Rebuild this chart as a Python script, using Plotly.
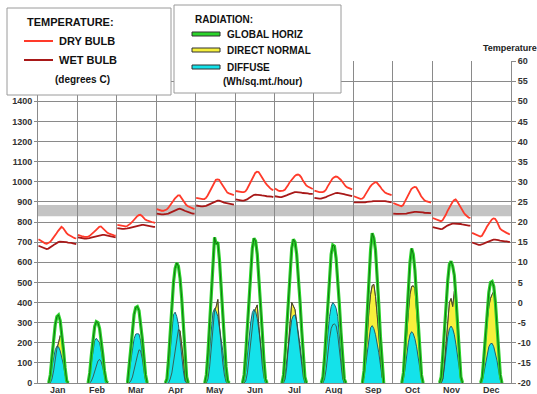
import plotly.graph_objects as go

months = ["Jan", "Feb", "Mar", "Apr", "May", "Jun", "Jul", "Aug", "Sep", "Oct", "Nov", "Dec"]

# Hourly (0..23) average values for each month, degrees C
dry_bulb = [
    [15.7,15.4,15.1,14.9,14.7,14.6,14.8,15.0,15.5,16.0,16.6,17.2,17.8,18.4,18.8,18.5,17.8,17.3,16.9,16.6,16.4,16.2,16.0,15.9],
    [16.8,16.6,16.5,16.4,16.3,16.25,16.3,16.5,16.8,17.2,17.6,18.0,18.4,18.8,18.9,18.5,18.0,17.6,17.3,17.1,16.9,16.8,16.7,16.6],
    [19.3,19.2,19.1,19.0,18.9,18.9,19.0,19.2,19.6,20.0,20.5,21.0,21.4,21.7,21.8,21.5,21.0,20.6,20.4,20.2,20.1,20.0,19.9,19.8],
    [23.2,23.0,22.9,22.8,22.8,22.9,23.1,23.5,24.0,24.6,25.2,25.8,26.3,26.6,26.6,26.0,25.3,24.6,24.2,23.9,23.7,23.5,23.3,23.2],
    [26.0,25.9,25.8,25.75,25.7,25.7,26.0,26.6,27.4,28.1,29.0,29.9,30.5,30.6,30.5,29.8,29.1,28.6,27.9,27.3,27.1,26.9,26.8,26.7],
    [27.7,27.6,27.5,27.5,27.4,27.4,27.6,28.2,29.0,29.9,30.8,31.6,32.2,32.5,32.4,31.8,31.0,30.3,29.8,29.3,28.8,28.4,28.1,27.9],
    [28.3,28.0,27.8,27.7,27.7,27.8,28.0,28.5,29.2,29.9,30.5,31.0,31.4,31.7,31.8,31.6,31.1,30.3,29.6,29.1,28.8,28.6,28.4,28.2],
    [27.8,27.6,27.5,27.4,27.4,27.4,27.6,28.0,28.8,29.6,30.3,30.8,31.1,31.3,31.2,30.9,30.5,30.0,29.4,28.9,28.6,28.4,28.2,28.1],
    [26.4,26.2,26.0,25.8,25.75,25.8,26.1,26.8,27.6,28.2,28.8,29.3,29.7,29.9,29.8,29.4,28.8,28.2,27.7,27.3,27.1,26.9,26.8,26.7],
    [24.7,24.5,24.3,24.1,23.9,23.9,24.2,25.0,25.9,26.8,27.6,28.2,28.5,28.7,28.6,28.0,27.2,26.4,25.8,25.4,25.2,25.0,24.9,24.8],
    [21.0,20.8,20.6,20.4,20.3,20.2,20.4,21.0,21.8,22.7,23.5,24.3,24.9,25.4,25.6,25.1,24.3,23.5,22.8,22.3,21.8,21.4,21.1,21.0],
    [17.3,17.1,16.9,16.7,16.5,16.4,16.6,17.2,18.0,18.8,19.5,20.1,20.6,20.9,20.8,20.2,19.2,18.4,18.0,17.7,17.5,17.3,17.1,16.9],
]
wet_bulb = [
    [14.1,13.9,13.7,13.5,13.4,13.3,13.4,13.6,13.9,14.2,14.5,14.8,15.0,15.1,15.1,15.1,15.0,15.0,14.9,14.9,14.8,14.7,14.6,14.5],
    [16.2,16.1,16.0,16.0,15.9,15.9,15.9,16.0,16.1,16.2,16.4,16.5,16.6,16.7,16.8,16.8,16.8,16.7,16.7,16.6,16.5,16.4,16.3,16.2],
    [18.5,18.4,18.4,18.3,18.3,18.3,18.4,18.5,18.6,18.8,18.9,19.0,19.1,19.2,19.3,19.3,19.3,19.2,19.1,19.0,19.0,18.9,18.8,18.8],
    [22.1,22.0,22.0,21.9,21.9,21.9,22.0,22.1,22.3,22.5,22.7,22.9,23.1,23.2,23.3,23.2,23.0,22.8,22.6,22.4,22.3,22.2,22.1,22.1],
    [24.1,24.0,24.0,23.9,23.9,23.9,24.0,24.2,24.4,24.6,24.9,25.1,25.3,25.3,25.3,25.2,25.0,24.8,24.7,24.6,24.5,24.4,24.3,24.3],
    [25.6,25.5,25.4,25.4,25.3,25.3,25.4,25.6,25.9,26.2,26.5,26.7,26.8,26.8,26.8,26.7,26.6,26.6,26.5,26.4,26.4,26.3,26.3,26.2],
    [26.4,26.3,26.3,26.2,26.2,26.3,26.4,26.6,26.8,27.0,27.2,27.3,27.4,27.4,27.4,27.3,27.3,27.2,27.2,27.1,27.1,27.0,27.0,27.0],
    [26.0,25.9,25.9,25.8,25.8,25.9,26.0,26.2,26.4,26.6,26.8,27.0,27.1,27.2,27.25,27.2,27.1,27.0,26.9,26.8,26.7,26.6,26.5,26.4],
    [24.9,24.9,24.8,24.8,24.8,24.8,24.9,24.9,25.0,25.0,25.1,25.1,25.2,25.2,25.2,25.3,25.3,25.3,25.2,25.2,25.1,25.0,25.0,24.9],
    [22.1,22.0,22.0,22.0,22.0,22.0,22.0,22.0,22.1,22.2,22.3,22.4,22.5,22.5,22.5,22.5,22.5,22.4,22.4,22.3,22.3,22.2,22.2,22.2],
    [18.7,18.6,18.5,18.4,18.3,18.25,18.3,18.5,18.8,19.1,19.3,19.5,19.6,19.6,19.6,19.6,19.5,19.5,19.4,19.3,19.3,19.2,19.1,19.1],
    [14.9,14.7,14.5,14.4,14.3,14.3,14.4,14.6,14.8,15.0,15.2,15.4,15.5,15.6,15.6,15.6,15.5,15.4,15.3,15.3,15.2,15.2,15.1,15.0],
]

# Hourly radiation, Wh/sq.m/hour
global_horiz = [
    [0,0,0,0,0,0,0,40,130,220,290,330,338,310,250,165,75,10,0,0,0,0,0,0],
    [0,0,0,0,0,0,0,50,140,220,280,305,300,270,210,140,60,10,0,0,0,0,0,0],
    [0,0,0,0,0,0,0,80,180,270,340,375,380,360,300,220,130,40,0,0,0,0,0,0],
    [0,0,0,0,0,0,20,120,260,390,500,570,597,580,520,420,290,150,30,0,0,0,0,0],
    [0,0,0,0,0,0,40,150,300,460,610,724,690,700,610,480,340,200,80,10,0,0,0,0],
    [0,0,0,0,0,40,150,290,440,570,670,719,705,640,530,400,260,120,20,0,0,0,0,0],
    [0,0,0,0,0,40,150,290,440,570,670,714,700,640,540,410,270,130,30,0,0,0,0,0],
    [0,0,0,0,0,30,130,270,420,550,640,686,680,620,520,390,250,120,20,0,0,0,0,0],
    [0,0,0,0,0,0,60,200,370,530,660,744,720,660,540,390,230,90,0,0,0,0,0,0],
    [0,0,0,0,0,0,50,180,330,480,600,669,640,560,440,300,160,40,0,0,0,0,0,0],
    [0,0,0,0,0,30,140,270,400,510,590,605,580,535,420,270,130,30,0,0,0,0,0,0],
    [0,0,0,0,0,0,30,130,250,360,450,500,505,480,400,280,150,40,0,0,0,0,0,0],
]
direct_normal = [
    [0,0,0,0,0,0,0,0,20,60,120,170,200,235,225,150,60,0,0,0,0,0,0,0],
    [0,0,0,0,0,0,0,0,10,30,60,90,110,117,105,75,30,0,0,0,0,0,0,0],
    [0,0,0,0,0,0,0,0,10,30,60,100,135,165,160,120,60,10,0,0,0,0,0,0],
    [0,0,0,0,0,0,0,0,20,50,100,160,220,265,260,200,120,30,0,0,0,0,0,0],
    [0,0,0,0,0,0,0,20,80,170,300,360,380,415,280,180,100,40,5,0,0,0,0,0],
    [0,0,0,0,0,0,10,50,120,200,290,350,370,388,280,170,90,30,0,0,0,0,0,0],
    [0,0,0,0,0,0,20,80,170,300,400,385,365,300,230,160,90,30,0,0,0,0,0,0],
    [0,0,0,0,0,0,20,70,150,220,270,290,293,285,240,170,90,20,0,0,0,0,0,0],
    [0,0,0,0,0,0,30,120,250,360,440,485,490,430,340,230,120,30,0,0,0,0,0,0],
    [0,0,0,0,0,0,30,130,260,350,440,480,483,470,360,230,110,20,0,0,0,0,0,0],
    [0,0,0,0,0,0,20,100,210,320,400,420,380,455,400,250,110,20,0,0,0,0,0,0],
    [0,0,0,0,0,0,20,100,210,310,380,420,440,455,390,270,140,30,0,0,0,0,0,0],
]
diffuse = [
    [0,0,0,0,0,0,0,30,80,130,165,183,180,160,130,90,40,5,0,0,0,0,0,0],
    [0,0,0,0,0,0,0,40,100,160,210,222,210,200,160,110,50,5,0,0,0,0,0,0],
    [0,0,0,0,0,0,0,50,110,170,220,243,245,243,210,150,80,20,0,0,0,0,0,0],
    [0,0,0,0,0,0,10,70,170,270,340,352,330,290,200,130,60,10,0,0,0,0,0,0],
    [0,0,0,0,0,0,20,80,170,270,350,370,355,330,280,220,160,90,30,5,0,0,0,0],
    [0,0,0,0,0,10,60,140,230,300,350,366,355,320,260,190,120,50,5,0,0,0,0,0],
    [0,0,0,0,0,10,50,120,200,270,315,335,338,310,260,190,120,50,5,0,0,0,0,0],
    [0,0,0,0,0,20,80,170,260,330,380,400,390,372,330,240,140,40,0,0,0,0,0,0],
    [0,0,0,0,0,0,30,90,160,230,275,285,270,240,200,150,90,30,0,0,0,0,0,0],
    [0,0,0,0,0,0,20,70,140,200,240,255,245,220,180,130,70,20,0,0,0,0,0,0],
    [0,0,0,0,0,0,20,80,160,230,270,283,270,240,190,130,60,15,0,0,0,0,0,0],
    [0,0,0,0,0,0,10,50,100,145,180,195,197,180,150,110,60,15,0,0,0,0,0,0],
]

comfort_band = (21.4, 24.2)
left_ticks = list(range(0, 1700, 100))
right_ticks = list(range(-20, 65, 5))

HOURS = 24
# plot box in pixels (for placing legend boxes / labels)
PL, PR, PT, PB = 38, 511, 61, 383


def px(xp):
    return (xp - PL) / (PR - PL)


def py(yp):
    return (PB - yp) / (PB - PT)


def series_temp(data):
    xs, ys = [], []
    for m, vals in enumerate(data):
        for h, v in enumerate(vals):
            xs.append(m * HOURS + h + 0.3)
            ys.append(v)
        xs.append(None)
        ys.append(None)
    return xs, ys


def series_rad(data):
    xs, ys = [], []
    for m, vals in enumerate(data):
        n = len(vals)
        for h, v in enumerate(vals):
            keep = v > 0 or (h > 0 and vals[h - 1] > 0) or (h < n - 1 and vals[h + 1] > 0)
            if keep:
                xs.append(m * HOURS + h + 0.5)
                ys.append(v)
        xs.append(None)
        ys.append(None)
    return xs, ys


fig = go.Figure()

# radiation fills
x, y = series_rad(direct_normal)
fig.add_trace(go.Scatter(x=x, y=y, mode="lines", fill="tozeroy", fillcolor="#f6f03c",
                         line=dict(color="#6b6520", width=1), yaxis="y", hoverinfo="skip"))
x, y = series_rad(diffuse)
fig.add_trace(go.Scatter(x=x, y=y, mode="lines", fill="tozeroy", fillcolor="#14e2ea",
                         line=dict(color="#1f5f70", width=1), yaxis="y", hoverinfo="skip"))
x, y = series_rad(direct_normal)
fig.add_trace(go.Scatter(x=x, y=y, mode="lines", line=dict(color="#404030", width=0.8),
                         yaxis="y", hoverinfo="skip"))
x, y = series_rad(global_horiz)
fig.add_trace(go.Scatter(x=x, y=y, mode="lines", line=dict(color="#2bd42b", width=3.2),
                         yaxis="y", hoverinfo="skip"))
fig.add_trace(go.Scatter(x=x, y=y, mode="lines", line=dict(color="#0d5e0d", width=0.8),
                         yaxis="y", hoverinfo="skip"))

# temperatures
x, y = series_temp(wet_bulb)
fig.add_trace(go.Scatter(x=x, y=y, mode="lines", line=dict(color="#a81818", width=1.8),
                         yaxis="y2", hoverinfo="skip"))
x, y = series_temp(dry_bulb)
fig.add_trace(go.Scatter(x=x, y=y, mode="lines", line=dict(color="#ff3a2a", width=1.8),
                         yaxis="y2", hoverinfo="skip"))

font_b = dict(family="Liberation Sans, Arial", size=9, color="#333333", weight="bold")
grid = "#8a8a8a"

shapes = [
    dict(type="rect", xref="paper", yref="y2", x0=0, x1=1, y0=comfort_band[0], y1=comfort_band[1],
         fillcolor="#c4c4c4", line=dict(width=0), layer="between"),
]

# legend boxes
for (x0, y0, x1, y1) in [(7, 8, 171, 95), (174, 5, 341, 93)]:
    shapes.append(dict(type="rect", xref="paper", yref="paper", x0=px(x0), x1=px(x1),
                       y0=py(y1), y1=py(y0), fillcolor="white",
                       line=dict(color="#9a9a9a", width=1), layer="above"))

lab_font = dict(family="Liberation Sans, Arial", size=11, color="#111", weight="bold")
lab_font2 = dict(family="Liberation Sans, Arial", size=10, color="#111", weight="bold")

annotations = []
# temperature legend
annotations.append(dict(text="TEMPERATURE:", x=px(25), y=py(22), xref="paper", yref="paper",
                        xanchor="left", yanchor="middle", showarrow=False, font=lab_font))
for label, color, yy in [("DRY BULB", "#ff3a2a", 41), ("WET BULB", "#a81818", 60)]:
    shapes.append(dict(type="line", xref="paper", yref="paper", x0=px(24), x1=px(53),
                       y0=py(yy), y1=py(yy), line=dict(color=color, width=2), layer="above"))
    annotations.append(dict(text=label, x=px(57), y=py(yy), xref="paper", yref="paper",
                            xanchor="left", yanchor="middle", showarrow=False, font=lab_font))
annotations.append(dict(text="(degrees C)", x=px(53), y=py(80), xref="paper", yref="paper",
                        xanchor="left", yanchor="middle", showarrow=False, font=lab_font2))

# radiation legend
annotations.append(dict(text="RADIATION:", x=px(193), y=py(19), xref="paper", yref="paper",
                        xanchor="left", yanchor="middle", showarrow=False, font=lab_font2))
for label, color, yy in [("GLOBAL HORIZ", "#2bd42b", 34), ("DIRECT NORMAL", "#f6f03c", 50),
                         ("DIFFUSE", "#14e2ea", 67)]:
    shapes.append(dict(type="rect", xref="paper", yref="paper", x0=px(192), x1=px(220),
                       y0=py(yy + 2), y1=py(yy - 2), fillcolor=color,
                       line=dict(color="#303030", width=1), layer="above"))
    annotations.append(dict(text=label, x=px(225), y=py(yy), xref="paper", yref="paper",
                            xanchor="left", yanchor="middle", showarrow=False, font=lab_font2))
annotations.append(dict(text="(Wh/sq.mt./hour)", x=px(221), y=py(82), xref="paper", yref="paper",
                        xanchor="left", yanchor="middle", showarrow=False, font=lab_font2))

annotations.append(dict(text="Temperature", x=px(481), y=py(48), xref="paper", yref="paper",
                        xanchor="left", yanchor="middle", showarrow=False,
                        font=dict(family="Liberation Sans, Arial", size=9, color="#222", weight="bold")))

# month labels
for m, name in enumerate(months):
    annotations.append(dict(text=name, x=m * HOURS + HOURS / 2, y=0, xref="x", yref="paper",
                            xanchor="center", yanchor="top", yshift=0, showarrow=False,
                            font=font_b))

fig.update_layout(
    width=537, height=394,
    margin=dict(l=PL, r=537 - PR, t=PT, b=394 - PB, pad=0),
    paper_bgcolor="white", plot_bgcolor="white",
    showlegend=False,
    xaxis=dict(range=[0, 12 * HOURS], tickmode="linear", tick0=0, dtick=HOURS,
               showticklabels=False, showgrid=True, gridcolor=grid, gridwidth=1,
               zeroline=False, showline=True, linecolor=grid, mirror=False, ticks="",
               automargin=False),
    yaxis=dict(range=[0, 1600], tickmode="array", tickvals=left_ticks,
               ticktext=[str(v) if v <= 1400 else "" for v in left_ticks],
               showgrid=True, gridcolor=grid, gridwidth=1, zeroline=False,
               showline=True, linecolor=grid, ticks="outside", ticklen=3, tickcolor=grid,
               tickfont=font_b, automargin=False),
    yaxis2=dict(range=[-20, 60], overlaying="y", side="right", tickmode="array",
                tickvals=right_ticks, ticktext=[str(v) for v in right_ticks],
                showgrid=False, zeroline=False, showline=True, linecolor=grid,
                ticks="outside", ticklen=4, tickcolor=grid, tickfont=font_b, automargin=False),
    shapes=shapes,
    annotations=annotations,
)

fig.write_html("out.html", config={"displayModeBar": False},
               post_script="document.body.style.margin='0';document.body.style.overflow='hidden';")
